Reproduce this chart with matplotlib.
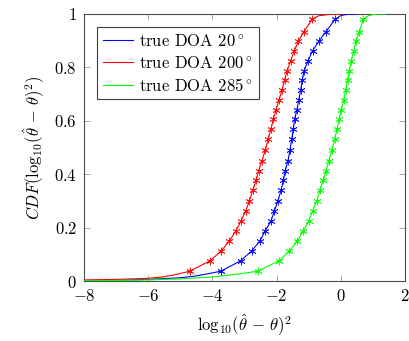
import numpy as np
import matplotlib
matplotlib.use("Agg")
import matplotlib.pyplot as plt

plt.rcParams['font.family'] = ['cmr10', 'DejaVu Serif']
plt.rcParams['mathtext.fontset'] = 'cm'
plt.rcParams['axes.formatter.use_mathtext'] = True
plt.rcParams['axes.unicode_minus'] = True

# marker CDF levels (shared)
y_markers = [0.037, 0.076, 0.112, 0.150, 0.187, 0.223, 0.262, 0.300, 0.340, 0.377,
             0.413, 0.451, 0.492, 0.531, 0.568, 0.606, 0.640, 0.678, 0.715, 0.753,
             0.788, 0.825, 0.862, 0.899, 0.934, 0.980]

# true DOA 200 (red)
red_x = [-4.70, -4.07, -3.73, -3.47, -3.27, -3.12, -2.96, -2.85, -2.74, -2.64, -2.56,
         -2.455, -2.35, -2.26, -2.18, -2.10, -2.02, -1.925, -1.83, -1.75, -1.67, -1.56,
         -1.45, -1.32, -1.15, -0.89]
red_tail_x = [-8, -7, -6, -5.5, -5.1]
red_tail_y = [0.004, 0.006, 0.010, 0.016, 0.025]
red_head_x = [-0.7, -0.4, -0.1, 0.1]
red_head_y = [0.993, 0.998, 1.0, 1.0]

# true DOA 20 (blue)
blue_x = [-3.73, -3.12, -2.78, -2.52, -2.36, -2.18, -2.07, -1.96, -1.86, -1.79, -1.73,
          -1.645, -1.58, -1.53, -1.48, -1.44, -1.37, -1.31, -1.25, -1.20, -1.14, -1.02,
          -0.88, -0.68, -0.46, -0.18]
blue_tail_x = [-8, -7, -6, -5, -4.5, -4.1]
blue_tail_y = [0.002, 0.003, 0.006, 0.012, 0.019, 0.028]
blue_head_x = [0.0, 0.2, 0.5]
blue_head_y = [0.994, 0.999, 1.0]

# true DOA 285 (green)
green_x = [-2.57, -1.925, -1.60, -1.355, -1.17, -1.00, -0.88, -0.75, -0.65, -0.55, -0.46,
           -0.37, -0.27, -0.19, -0.12, -0.05, 0.02, 0.09, 0.15, 0.21, 0.27, 0.33, 0.40,
           0.48, 0.58, 0.70]
green_tail_x = [-8, -7, -6, -5, -4, -3.2]
green_tail_y = [0.001, 0.002, 0.004, 0.008, 0.015, 0.026]
green_head_x = [0.85, 1.0, 1.2, 1.4]
green_head_y = [0.993, 0.998, 1.0, 1.0]

labels = ['true DOA 20$^\\circ$', 'true DOA 200$^\\circ$', 'true DOA 285$^\\circ$']
xticks = [-8, -6, -4, -2, 0, 2]
yticks = [0, 0.2, 0.4, 0.6, 0.8, 1]
ytick_labels = ['$0$', '$0.2$', '$0.4$', '$0.6$', '$0.8$', '$1$']

fs = 12
fig = plt.figure(figsize=(4.10, 3.41), dpi=100)
ax = fig.add_axes([84/410, 60/341, 321/410, 267/341])

series = [
    (blue_tail_x, blue_tail_y, blue_x, blue_head_x, blue_head_y, (0, 0, 1), labels[0]),
    (red_tail_x, red_tail_y, red_x, red_head_x, red_head_y, (1, 0, 0), labels[1]),
    (green_tail_x, green_tail_y, green_x, green_head_x, green_head_y, (0, 1, 0), labels[2]),
]
for tx, ty, mx, hx, hy, c, lab in series:
    lx = np.concatenate([tx, mx, hx])
    ly = np.concatenate([ty, y_markers, hy])
    ax.plot(lx, ly, color=c, lw=0.8, label=lab, zorder=3)
    ax.plot(mx, y_markers, ls='none', marker=(6, 2, 0), ms=5.5, mew=0.6, color=c,
            alpha=0.9, zorder=4)

ax.set_xlim(-8, 2)
ax.set_ylim(0, 1)
ax.set_xticks(xticks)
ax.set_yticks(yticks)
ax.set_yticklabels(ytick_labels)
ax.tick_params(direction='in', top=True, right=True, length=4, width=0.6,
               color='0.6', labelsize=fs)
ax.tick_params(axis='x', pad=5)
ax.tick_params(axis='y', pad=5)
for s in ax.spines.values():
    s.set_color('0.3')
    s.set_linewidth(0.8)

ax.set_xlabel(r'$\mathrm{log}_{10}(\hat{\theta}\,-\,\theta)^2$', fontsize=fs, labelpad=6)
ax.set_ylabel(r'$CDF(\mathrm{log}_{10}(\hat{\theta}\,-\,\theta)^2)$', fontsize=fs, labelpad=5)

leg = ax.legend(loc='upper left', bbox_to_anchor=(0.040, 0.951), fontsize=fs,
                fancybox=False, edgecolor='0.25', framealpha=1, handlelength=1.8,
                handletextpad=0.4, labelspacing=0.35, borderpad=0.35, borderaxespad=0)
leg.get_frame().set_linewidth(0.8)

fig.savefig('out.png', dpi=100)
